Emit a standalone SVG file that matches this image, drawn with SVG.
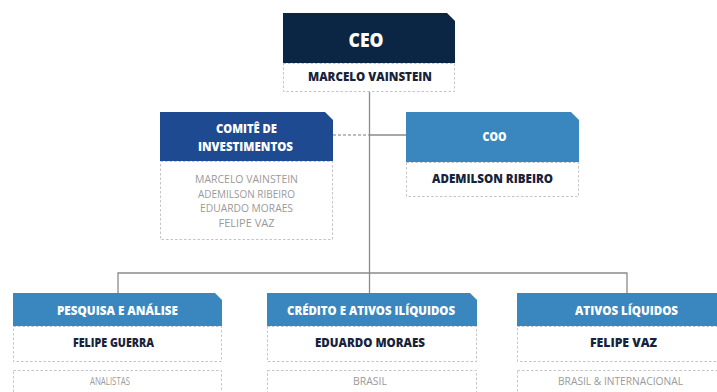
<svg xmlns="http://www.w3.org/2000/svg" width="717" height="392" viewBox="0 0 717 392">
<style>
.sub{fill:#fff;stroke:#c4c4c4;stroke-width:1;stroke-dasharray:2.5,2}
.hdr{font-family:"Open Sans","Liberation Sans",sans-serif;font-weight:800;fill:#fff;text-anchor:middle}
.nm{font-family:"Open Sans","Liberation Sans",sans-serif;font-weight:800;fill:#17233b;text-anchor:middle;font-size:12.5px}
.gr{font-family:"Open Sans","Liberation Sans",sans-serif;fill:#9a9a9a;text-anchor:middle;font-size:10.8px}
.ln{stroke:#8a8a8a;stroke-width:1.3;fill:none}
.dl{stroke:#a8a8a8;stroke-width:1.3;fill:none;stroke-dasharray:3,2}
</style>
<rect width="717" height="392" fill="#fff"/>
<g id="connectors">
<path class="ln" d="M369.5,92 V273"/>
<path class="ln" d="M370,135 H406"/>
<path class="dl" d="M333,135 H369"/>
<path class="ln" d="M118,293 V273 H627 V293"/>
<path class="ln" d="M369.5,273 V293"/>
</g>
<g id="ceo">
<path d="M283,13 H447 L455,21 V63 H283 Z" fill="#0a2644"/>
<rect class="sub" x="283.5" y="63.5" width="171" height="28"/>
<text class="hdr" x="366" y="47" font-size="19" textLength="35" lengthAdjust="spacingAndGlyphs">CEO</text>
<text class="nm" x="370" y="81" textLength="124" lengthAdjust="spacingAndGlyphs">MARCELO VAINSTEIN</text>
</g>
<g id="comite">
<path d="M160,112 H325 L333,120 V161 H160 Z" fill="#1e4a91"/>
<rect class="sub" x="160.5" y="161.5" width="172" height="78"/>
<text class="hdr" x="246.5" y="133" font-size="11.5" textLength="61" lengthAdjust="spacingAndGlyphs">COMITÊ DE</text>
<text class="hdr" x="245.5" y="151" font-size="11.5" textLength="95" lengthAdjust="spacingAndGlyphs">INVESTIMENTOS</text>
<text class="gr" x="246.5" y="183" textLength="103" lengthAdjust="spacingAndGlyphs">MARCELO VAINSTEIN</text>
<text class="gr" x="246.5" y="197.5" textLength="97" lengthAdjust="spacingAndGlyphs">ADEMILSON RIBEIRO</text>
<text class="gr" x="246.5" y="212" textLength="93" lengthAdjust="spacingAndGlyphs">EDUARDO MORAES</text>
<text class="gr" x="246.5" y="226.5" textLength="56" lengthAdjust="spacingAndGlyphs">FELIPE VAZ</text>
</g>
<g id="coo">
<path d="M406,112 H571 L579,120 V162 H406 Z" fill="#3a87c0"/>
<rect class="sub" x="406.5" y="162.5" width="172" height="34"/>
<text class="hdr" x="494.5" y="141" font-size="11.5" textLength="24" lengthAdjust="spacingAndGlyphs">COO</text>
<text class="nm" x="492.5" y="183" textLength="121" lengthAdjust="spacingAndGlyphs">ADEMILSON RIBEIRO</text>
</g>
<g id="pesquisa">
<path d="M13,293 H215 L222,300 V326 H13 Z" fill="#3a87c0"/>
<rect class="sub" x="13.5" y="326.5" width="208" height="35"/>
<rect class="sub" x="13.5" y="370.5" width="208" height="30"/>
<text class="hdr" x="117.5" y="315" font-size="11.5" textLength="121" lengthAdjust="spacingAndGlyphs">PESQUISA E ANÁLISE</text>
<text class="nm" x="113.5" y="347" textLength="81" lengthAdjust="spacingAndGlyphs">FELIPE GUERRA</text>
<text class="gr" x="110" y="385" textLength="40" lengthAdjust="spacingAndGlyphs">ANALISTAS</text>
</g>
<g id="credito">
<path d="M267,293 H470 L477,300 V326 H267 Z" fill="#3a87c0"/>
<rect class="sub" x="267.5" y="326.5" width="209" height="35"/>
<rect class="sub" x="267.5" y="370.5" width="209" height="30"/>
<text class="hdr" x="371" y="315" font-size="11.5" textLength="168" lengthAdjust="spacingAndGlyphs">CRÉDITO E ATIVOS ILÍQUIDOS</text>
<text class="nm" x="370" y="347" textLength="110" lengthAdjust="spacingAndGlyphs">EDUARDO MORAES</text>
<text class="gr" x="370" y="385" textLength="34" lengthAdjust="spacingAndGlyphs">BRASIL</text>
</g>
<g id="ativos">
<path d="M517,293 H730 L737,300 V326 H517 Z" fill="#3a87c0"/>
<rect class="sub" x="517.5" y="326.5" width="219" height="35"/>
<rect class="sub" x="517.5" y="370.5" width="219" height="30"/>
<text class="hdr" x="626.5" y="315" font-size="11.5" textLength="103" lengthAdjust="spacingAndGlyphs">ATIVOS LÍQUIDOS</text>
<text class="nm" x="623.5" y="347" textLength="67" lengthAdjust="spacingAndGlyphs">FELIPE VAZ</text>
<text class="gr" x="620.5" y="385" textLength="125" lengthAdjust="spacingAndGlyphs">BRASIL &amp; INTERNACIONAL</text>
</g>
</svg>
